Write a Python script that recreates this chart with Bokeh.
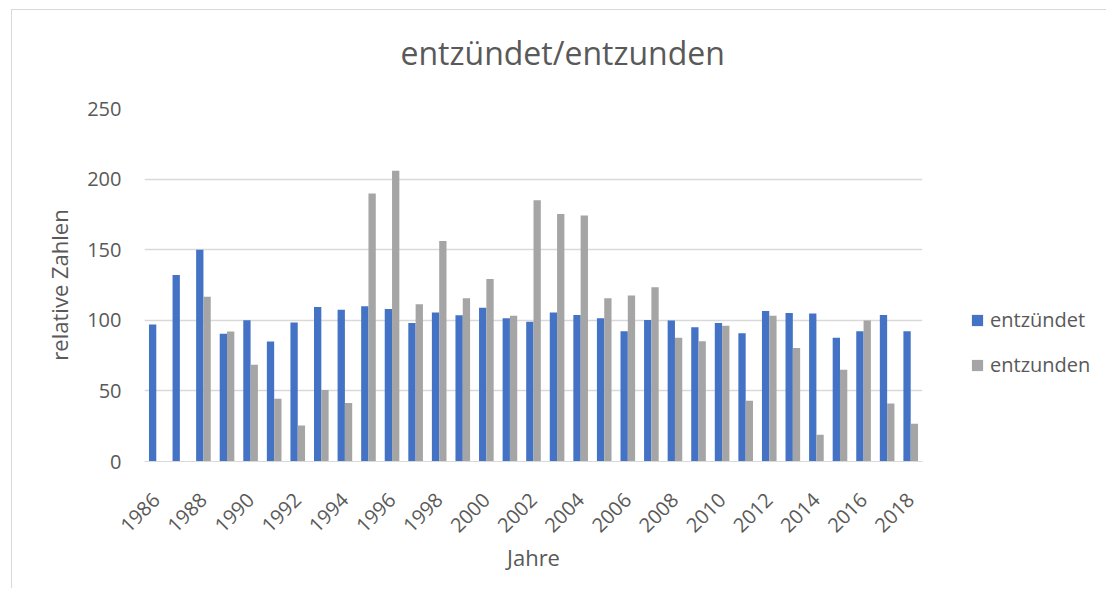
import math
from bokeh.plotting import figure
from bokeh.models import (ColumnDataSource, Range1d, FixedTicker, Legend,
                          LegendItem, Title, LinearAxis)
from bokeh.transform import dodge
from bokeh.embed import file_html
from bokeh.resources import INLINE

title_text = "entzündet/entzunden"
x_axis_title = "Jahre"
y_axis_title = "relative Zahlen"
series_names = ["entzündet", "entzunden"]

years = list(range(1986, 2019))
entzuendet = [97, 132, 150, 90.5, 100, 85, 98.5, 109.5, 107.5, 110, 108,
              98, 105.5, 103.5, 108.8, 101.5, 99, 105.5, 103.8, 101.5, 92.2,
              100.2, 99.9, 95, 98.1, 90.8, 106.5, 105.2, 104.8, 87.6, 92.3,
              103.7, 92.3]
entzunden = [0, 0, 116.7, 92, 68.5, 44.4, 25.5, 50.7, 41.5, 189.8, 206,
             111.3, 156.2, 115.7, 129.3, 103.2, 185, 175.2, 174.2, 115.7, 117.6,
             123.4, 87.6, 85.2, 96.1, 43, 103.3, 80.3, 19, 65, 99.9,
             41.1, 26.8]
x_tick_years = [1986, 1988, 1990, 1992, 1994, 1996, 1998, 2000, 2002, 2004,
                2006, 2008, 2010, 2012, 2014, 2016, 2018]
y_ticks = [0, 50, 100, 150, 200, 250]

FONT = "Open Sans"
TXT = "#595959"
GRID = "#D9D9D9"
BLUE = "#4472C4"
GRAY = "#A5A5A5"

src = ColumnDataSource(dict(year=years, a=entzuendet, b=entzunden))

ML, MT, MB = 132, 98, 127
FW, FH = 778, 353
p = figure(frame_width=FW, frame_height=FH, output_backend="svg",
           toolbar_location=None,
           x_range=Range1d(1985.5, 2018.5), y_range=Range1d(0, 250),
           min_border_left=ML, min_border_top=MT, min_border_right=100,
           min_border_bottom=MB)
p.styles = {"border-left": "1px solid #D9D9D9", "border-top": "1px solid #D9D9D9",
            "margin-left": "11px", "margin-top": "9px"}
p.outline_line_color = None
p.background_fill_color = "white"
p.border_fill_color = "white"

bw = 0.31
r1 = p.vbar(x=dodge("year", -bw / 2, range=p.x_range), top="a", width=bw,
            source=src, fill_color=BLUE, line_color=None)
r2 = p.vbar(x=dodge("year", bw / 2, range=p.x_range), top="b", width=bw,
            source=src, fill_color=GRAY, line_color=None)

# invisible spacer between frame and title (one undrawn tick, no label drawn)
spacer = LinearAxis(ticker=FixedTicker(ticks=[2000], minor_ticks=[]),
                    axis_line_color=None, major_tick_line_color=None,
                    minor_tick_line_color=None, major_tick_out=33,
                    minor_tick_out=0, major_tick_in=0, minor_tick_in=0,
                    major_label_standoff=0, major_label_text_font_size="2px",
                    major_label_text_color=None,
                    major_label_overrides={2000: ""})
p.add_layout(spacer, "above")

# title
p.add_layout(Title(text=title_text, text_font=FONT, text_font_size="32px",
                   text_font_style="normal", text_color=TXT, align="left",
                   offset=256, vertical_align="top", standoff=0), "above")

# axes
xa = p.below[0]
xa.ticker = FixedTicker(ticks=x_tick_years, minor_ticks=[])
xa.major_label_orientation = math.pi / 4
xa.axis_line_color = GRID
xa.major_tick_line_color = None
xa.minor_tick_line_color = None
xa.major_label_text_font = FONT
xa.major_label_text_font_size = "20px"
xa.major_label_text_color = TXT
xa.major_label_standoff = 29
xa.axis_label = x_axis_title
xa.axis_label_text_font = FONT
xa.axis_label_text_font_size = "22px"
xa.axis_label_text_font_style = "normal"
xa.axis_label_text_color = TXT
xa.axis_label_standoff = 0

ya = p.left[0]
ya.ticker = FixedTicker(ticks=y_ticks, minor_ticks=[])
ya.axis_line_color = None
ya.major_tick_line_color = None
ya.minor_tick_line_color = None
ya.major_label_text_font = FONT
ya.major_label_text_font_size = "20px"
ya.major_label_text_color = TXT
ya.major_label_standoff = 17
ya.axis_label = y_axis_title
ya.axis_label_text_font = FONT
ya.axis_label_text_font_size = "22px"
ya.axis_label_text_font_style = "normal"
ya.axis_label_text_color = TXT
ya.axis_label_standoff = 10

p.xgrid.grid_line_color = None
p.ygrid.grid_line_color = GRID
p.ygrid.grid_line_width = 1.3

legend = Legend(items=[LegendItem(label=series_names[0], renderers=[r1]),
                       LegendItem(label=series_names[1], renderers=[r2])],
                location=(48, 83), orientation="vertical",
                label_text_font=FONT, label_text_font_size="20px",
                label_text_color=TXT, glyph_width=14, glyph_height=14,
                spacing=18, padding=0, margin=0, border_line_color=None,
                background_fill_alpha=0, label_standoff=6)
p.add_layout(legend, "right")

open("out.html", "w").write(file_html(p, INLINE))
